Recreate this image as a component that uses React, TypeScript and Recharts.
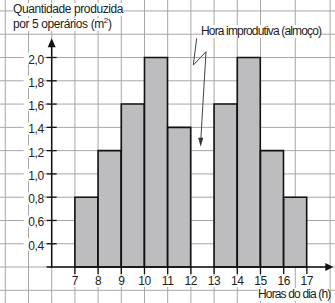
import { BarChart, Bar, XAxis, YAxis, CartesianGrid, ReferenceLine, ReferenceDot } from 'recharts';

// hour intervals (start of each hour) and production per interval, 12-13 is lunch
const hourStart = [7, 8, 9, 10, 11, 13, 14, 15, 16];
const production = [0.8, 1.2, 1.6, 2.0, 1.4, 1.6, 2.0, 1.2, 0.8];
const xTicks = [7, 8, 9, 10, 11, 12, 13, 14, 15, 16, 17];
const yTicks = [0.4, 0.6, 0.8, 1.0, 1.2, 1.4, 1.6, 1.8, 2.0];
const yTickLabels = ['0,4', '0,6', '0,8', '1,0', '1,2', '1,4', '1,6', '1,8', '2,0'];

const data = hourStart.map((h, i) => ({ h: h + 0.5, v: production[i] }));

// visible window (the whole picture is squared paper)
const X_MIN = 3.772;
const X_MAX = 18.212;
const Y_MIN = -0.109;
const Y_MAX = 2.494;
// where the drawn axes cross
const X0 = 6;
const Y0 = 0.2;

const range = (a: number, b: number, step: number) => {
  const out: number[] = [];
  for (let i = 0; a + i * step <= b + 1e-9; i++) out.push(+(a + i * step).toFixed(2));
  return out;
};
const gridX = range(4, 18, 0.5);
const gridY = range(-0.1, 2.4, 0.1);

const font = '"Liberation Sans", Arial, Helvetica, sans-serif';
const ink = '#222';

const label = (text: string, left: number, top: number, spacing: number, extra?: React.ReactNode) => (
  <div
    style={{
      position: 'absolute',
      left,
      top,
      background: '#fff',
      fontFamily: font,
      fontSize: 12,
      lineHeight: '13px',
      letterSpacing: spacing,
      color: ink,
      whiteSpace: 'nowrap',
    }}
  >
    {text}
    {extra}
  </div>
);

export default function App() {
  return (
    <div style={{ position: 'absolute', left: 0, top: 0, width: 335, height: 303, background: '#fff' }}>
      <BarChart
        width={335}
        height={303}
        data={data}
        margin={{ top: 0, right: 0, bottom: 0, left: 0 }}
        barCategoryGap={0}
      >
        <CartesianGrid stroke="#a6a6a6" strokeWidth={1} verticalValues={gridX} horizontalValues={gridY} />
        <XAxis dataKey="h" type="number" domain={[X_MIN, X_MAX]} allowDataOverflow hide />
        <YAxis type="number" domain={[Y_MIN, Y_MAX]} allowDataOverflow hide />
        <Bar
          dataKey={(d: { v: number }) => [Y0, d.v]}
          fill="#bdbdbf"
          stroke="#111"
          strokeWidth={1.6}
          isAnimationActive={false}
        />
        {/* axes */}
        <ReferenceLine
          segment={[{ x: X0, y: Y0 - 0.005 }, { x: X0, y: 2.12 }]}
          stroke="#111"
          strokeWidth={1.5}
        />
        <ReferenceLine
          segment={[{ x: 5.78, y: Y0 }, { x: 18.0, y: Y0 }]}
          stroke="#111"
          strokeWidth={1.5}
        />
        <ReferenceDot
          x={X0}
          y={2.165}
          shape={(p: any) => (
            <path d={`M${p.cx},${p.cy} L${p.cx - 4},${p.cy + 9} L${p.cx + 4},${p.cy + 9} Z`} fill="#111" />
          )}
        />
        <ReferenceDot
          x={18.14}
          y={Y0}
          shape={(p: any) => (
            <path d={`M${p.cx},${p.cy} L${p.cx - 8},${p.cy - 4} L${p.cx - 8},${p.cy + 4} Z`} fill="#111" />
          )}
        />
        {/* y ticks */}
        {yTicks.map((v, i) => (
          <ReferenceDot
            key={`y${v}`}
            x={X0}
            y={v}
            shape={(p: any) => (
              <g>
                <line x1={p.cx - 5} x2={p.cx + 5} y1={p.cy} y2={p.cy} stroke="#111" strokeWidth={1.3} />
                <rect x={p.cx - 28} y={p.cy - 5} width={20} height={12} fill="#fff" />
                <text
                  x={p.cx - 8}
                  y={p.cy + 6}
                  textAnchor="end"
                  fontFamily={font}
                  fontSize={12}
                  letterSpacing={-0.4}
                  fill={ink}
                >
                  {yTickLabels[i]}
                </text>
              </g>
            )}
          />
        ))}
        {/* x ticks */}
        {xTicks.map((t) => (
          <ReferenceDot
            key={`x${t}`}
            x={t}
            y={Y0}
            shape={(p: any) => (
              <g>
                <line x1={p.cx} x2={p.cx} y1={p.cy} y2={p.cy + 7} stroke="#111" strokeWidth={1.3} />
                <rect x={p.cx - (t > 9 ? 7 : 4)} y={p.cy + 9} width={t > 9 ? 14 : 8} height={11} fill="#fff" />
                <text
                  x={p.cx}
                  y={p.cy + 18}
                  textAnchor="middle"
                  fontFamily={font}
                  fontSize={12}
                  letterSpacing={-0.4}
                  fill={ink}
                >
                  {t}
                </text>
              </g>
            )}
          />
        ))}
        {/* lunch annotation */}
        <ReferenceLine segment={[{ x: 12.25, y: 2.165 }, { x: 12.104, y: 1.935 }]} stroke="#444" strokeWidth={1} />
        <ReferenceLine segment={[{ x: 12.104, y: 1.935 }, { x: 12.651, y: 2.05 }]} stroke="#444" strokeWidth={1} />
        <ReferenceLine segment={[{ x: 12.651, y: 2.05 }, { x: 12.43, y: 1.3 }]} stroke="#444" strokeWidth={1} />
        <ReferenceDot
          x={12.423}
          y={1.233}
          shape={(p: any) => (
            <path d={`M${p.cx},${p.cy} L${p.cx - 2.5},${p.cy - 9} L${p.cx + 2.5},${p.cy - 9} Z`} fill="#333" />
          )}
        />
      </BarChart>
      {label('Quantidade produzida', 13, 3, -0.4)}
      {label('por 5 operários (m', 13, 18, -0.4, <><sup style={{ fontSize: 8, lineHeight: 0 }}>2</sup>)</>)}
      {label('Hora improdutiva (almoço)', 201, 25, -0.85)}
      {label('Horas do dia (h)', 258, 288, -0.85)}
    </div>
  );
}
